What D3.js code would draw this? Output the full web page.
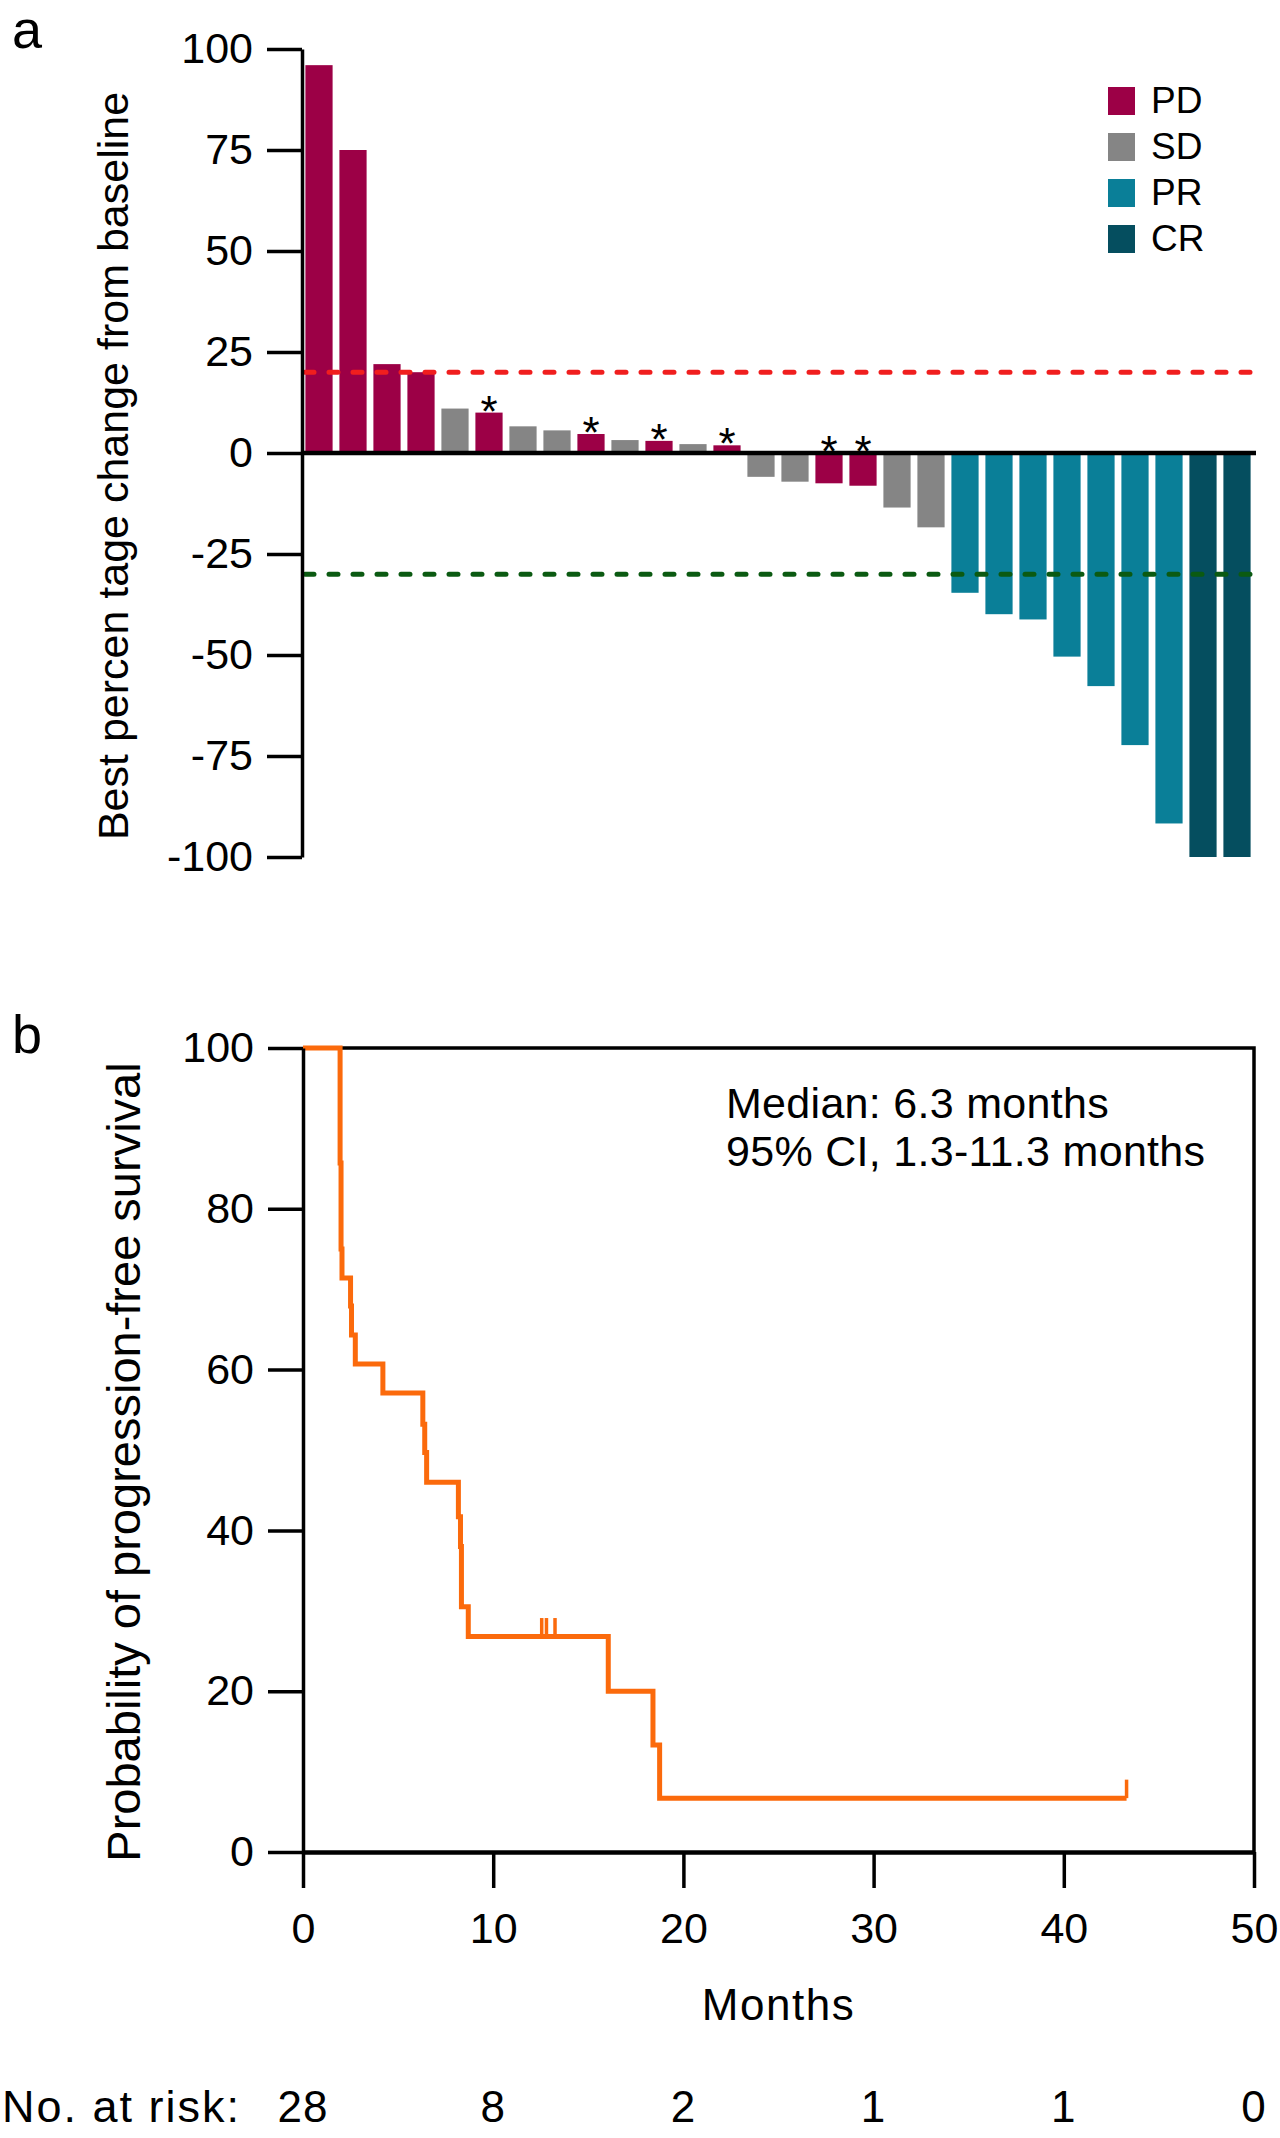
<!DOCTYPE html>
<html>
<head>
<meta charset="utf-8">
<script src="https://cdn.jsdelivr.net/npm/d3@7"></script>
<style>
  html, body { margin: 0; padding: 0; background: #fff; }
  svg { display: block; }
  text { font-family: "Liberation Sans", Arial, Helvetica, sans-serif; fill: #000; }
</style>
</head>
<body>
<script>
// ---------------- DATA ----------------
// Panel a: waterfall (best % change from baseline), one bar per patient
const patients = d3.range(1, 29).map(i => "P" + i);
const bestChange = [96, 75, 22, 20, 11, 10, 6.6, 5.6, 4.7, 3.2, 3.0, 2.2, 1.9,
  -5.9, -7.1, -7.5, -8.1, -13.5, -18.4, -34.6, -39.9, -41.2, -50.4, -57.7, -72.3, -91.7, -100, -100];
const response = ["PD","PD","PD","PD","SD","PD","SD","SD","PD","SD","PD","SD","PD",
  "SD","SD","PD","PD","SD","SD","PR","PR","PR","PR","PR","PR","PR","CR","CR"];
const starred = [0,0,0,0,0,1,0,0,1,0,1,0,1, 0,0,1,1,0,0,0,0,0,0,0,0,0,0,0];
const responseCats = ["PD", "SD", "PR", "CR"];
const responseColors = ["#9c0046", "#858585", "#0a7f98", "#054e5f"];
const waterfallTicks = [100, 75, 50, 25, 0, -25, -50, -75, -100];
const refLines = [20, -30];
const refColors = ["#f01e1e", "#0b5a12"];

// Panel b: Kaplan-Meier progression-free survival
const kmTime = [0, 1.95, 2.0, 2.05, 2.5, 2.55, 2.75, 4.2, 6.3, 6.4, 6.5, 8.17, 8.28, 8.33, 8.69, 16.05, 18.4, 18.75, 43.3];
const kmSurv = [100, 85.7, 75.0, 71.4, 67.9, 64.3, 60.7, 57.1, 53.2, 49.7, 46.0, 41.7, 38.0, 30.5, 26.8, 20.0, 13.3, 6.7, 6.7];
const censorTime = [12.55, 12.8, 13.25, 43.3];
const censorSurv = [26.8, 26.8, 26.8, 6.7];
const monthTicks = [0, 10, 20, 30, 40, 50];
const survTicks = [0, 20, 40, 60, 80, 100];
const atRisk = [28, 8, 2, 1, 1, 0];
const medianText = ["Median: 6.3 months", "95% CI, 1.3-11.3 months"];

// ---------------- DRAW ----------------
const svg = d3.select("body").append("svg").attr("width", 1280).attr("height", 2138);
const FONT = 43;
const plain = d => String(d);   // hyphen-minus like the reference

function styleAxis(g, sw) {
  g.selectAll("path.domain").attr("stroke", "#000").attr("stroke-width", sw);
  g.selectAll(".tick line").attr("stroke", "#000").attr("stroke-width", sw);
  g.selectAll(".tick text").attr("font-size", FONT).attr("fill", "#000")
    .style("font-family", '"Liberation Sans", Arial, sans-serif');
  g.attr("font-size", null).attr("font-family", null);
}

// ---- Panel a ----
const yA = d3.scaleLinear().domain([-100, 100]).range([857, 49]);
const xA = d3.scaleBand().domain(patients).range([302, 1254]).paddingInner(0.2).paddingOuter(0.1);
const color = d3.scaleOrdinal().domain(responseCats).range(responseColors);

svg.append("text").attr("x", 12).attr("y", 48).attr("font-size", 54).text("a");

const gA = svg.append("g");
gA.selectAll("rect.bar").data(bestChange).join("rect")
  .attr("class", "bar")
  .attr("x", (d, i) => xA(patients[i]))
  .attr("width", xA.bandwidth())
  .attr("y", d => d >= 0 ? yA(d) : yA(0))
  .attr("height", d => Math.abs(yA(d) - yA(0)))
  .attr("fill", (d, i) => color(response[i]));

gA.selectAll("line.ref").data(refLines).join("line")
  .attr("class", "ref")
  .attr("x1", 305).attr("x2", 1250)
  .attr("y1", d => yA(d)).attr("y2", d => yA(d))
  .attr("stroke", (d, i) => refColors[i])
  .attr("stroke-width", 5)
  .attr("stroke-linecap", "round")
  .attr("stroke-dasharray", "9,15");

gA.selectAll("text.star").data(bestChange.map((d, i) => ({d, i})).filter(o => starred[o.i]))
  .join("text").attr("class", "star")
  .attr("x", o => xA(patients[o.i]) + xA.bandwidth() / 2)
  .attr("y", o => (o.d > 0 ? yA(o.d) : yA(0)) + 14)
  .attr("text-anchor", "middle")
  .attr("font-size", 44)
  .text("*");

// zero baseline
gA.append("line").attr("x1", 302).attr("x2", 1256).attr("y1", yA(0)).attr("y2", yA(0))
  .attr("stroke", "#000").attr("stroke-width", 4.5);

const axA = svg.append("g").attr("transform", "translate(302,0)")
  .call(d3.axisLeft(yA).tickValues(waterfallTicks).tickSize(35).tickSizeOuter(0).tickPadding(14).tickFormat(plain));
styleAxis(axA, 3.5);

svg.append("text")
  .attr("transform", "translate(128,466) rotate(-90)")
  .attr("text-anchor", "middle").attr("font-size", FONT)
  .text("Best percen tage change from baseline");

// legend
const leg = svg.append("g");
responseCats.forEach((c, i) => {
  leg.append("rect").attr("x", 1108).attr("y", 87 + i * 46).attr("width", 27).attr("height", 28).attr("fill", responseColors[i]);
  leg.append("text").attr("x", 1151).attr("y", 113 + i * 46).attr("font-size", 37).text(c);
});

// ---- Panel b ----
const xB = d3.scaleLinear().domain([0, 50]).range([303, 1254]);
const yB = d3.scaleLinear().domain([0, 100]).range([1852, 1048]);

svg.append("text").attr("x", 12).attr("y", 1053).attr("font-size", 54).text("b");

// frame top & right
svg.append("path")
  .attr("d", `M${xB(0)},${yB(100)}H${xB(50)}V${yB(0)}`)
  .attr("fill", "none").attr("stroke", "#000").attr("stroke-width", 3.5);

const kmPts = kmTime.map((t, i) => [t, kmSurv[i]]);
const line = d3.line().x(d => xB(d[0])).y(d => yB(d[1])).curve(d3.curveStepAfter);
svg.append("path").datum(kmPts).attr("d", line)
  .attr("fill", "none").attr("stroke", "#fb6a0c").attr("stroke-width", 5);

svg.selectAll("line.censor").data(censorTime).join("line").attr("class", "censor")
  .attr("x1", d => xB(d)).attr("x2", d => xB(d))
  .attr("y1", (d, i) => yB(censorSurv[i]))
  .attr("y2", (d, i) => yB(censorSurv[i] + 2.3))
  .attr("stroke", "#fb6a0c").attr("stroke-width", 3.5);

const axBy = svg.append("g").attr("transform", `translate(${xB(0)},0)`)
  .call(d3.axisLeft(yB).tickValues(survTicks).tickSize(35).tickSizeOuter(0).tickPadding(14).tickFormat(plain));
styleAxis(axBy, 3.5);

const axBx = svg.append("g").attr("transform", `translate(0,${yB(0)})`)
  .call(d3.axisBottom(xB).tickValues(monthTicks).tickSize(36).tickSizeOuter(0).tickPadding(24).tickFormat(plain));
styleAxis(axBx, 3.5);
axBx.select("path.domain").attr("stroke-width", 4.5);

svg.append("text").attr("x", (xB(0) + xB(50)) / 2).attr("y", 2020)
  .attr("text-anchor", "middle").attr("font-size", 44).attr("letter-spacing", 1.5).text("Months");

svg.append("text")
  .attr("transform", "translate(140,1462) rotate(-90)")
  .attr("text-anchor", "middle").attr("font-size", 47)
  .text("Probability of progression-free survival");

medianText.forEach((t, i) => {
  svg.append("text").attr("x", 726).attr("y", 1118 + i * 48).attr("font-size", 43).attr("letter-spacing", 0.3).text(t);
});

svg.append("text").attr("x", 2).attr("y", 2122).attr("font-size", 45).attr("letter-spacing", 2).text("No. at risk:");
svg.selectAll("text.risk").data(atRisk).join("text").attr("class", "risk")
  .attr("x", (d, i) => xB(monthTicks[i])).attr("y", 2122)
  .attr("text-anchor", "middle").attr("font-size", 44).attr("letter-spacing", 1).text(d => d);
</script>
</body>
</html>
